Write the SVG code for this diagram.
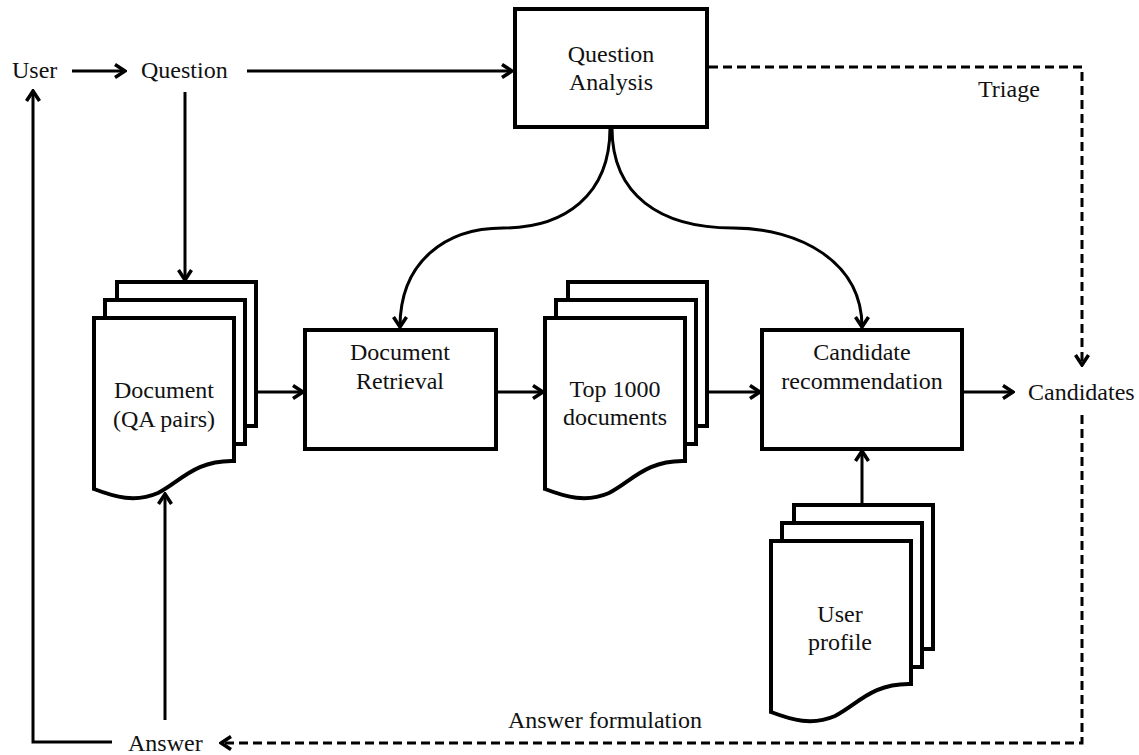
<svg xmlns="http://www.w3.org/2000/svg" xmlns:xlink="http://www.w3.org/1999/xlink" width="1139" height="755" viewBox="0 0 1139 755">
  <style>
    .box { fill: #fff; stroke: #000; stroke-width: 4; }
    .sheet { fill: #fff; stroke: #000; stroke-width: 4; stroke-linejoin: miter; }
    .lbl { font-family: "Liberation Serif", "Times New Roman", serif; font-size: 24px; fill: #111; }
    .mid { text-anchor: middle; }
    .wire { fill: none; stroke: #000; stroke-width: 3; }
    .dash { fill: none; stroke: #000; stroke-width: 3; stroke-dasharray: 9 5; }
  </style>
  <defs>
    <marker id="head" viewBox="0 0 14 16" refX="12" refY="8" markerWidth="14" markerHeight="16" markerUnits="userSpaceOnUse" orient="auto">
      <path d="M2,1.5 L12,8 L2,14.5" fill="none" stroke="#000" stroke-width="3.5" stroke-dasharray="none"/>
    </marker>
    <!-- stack of three document sheets, front sheet with a wavy bottom -->
    <g id="docStack">
      <rect class="sheet" x="117" y="282" width="139" height="144"/>
      <rect class="sheet" x="105" y="300" width="140" height="144"/>
      <path class="sheet" d="M94,318 H234 V461 C195,460 180,482 158,493 C135,503 115,497 94,489 Z"/>
    </g>
  </defs>

  <g id="connectors">
    <!-- user asks a question -->
    <line class="wire" x1="72" y1="71" x2="125" y2="71" marker-end="url(#head)"/>
    <line class="wire" x1="247" y1="71" x2="512" y2="71" marker-end="url(#head)"/>
    <line class="wire" x1="185" y1="92" x2="185" y2="280" marker-end="url(#head)"/>
    <!-- main pipeline -->
    <line class="wire" x1="256" y1="392" x2="303" y2="392" marker-end="url(#head)"/>
    <line class="wire" x1="496" y1="392" x2="543" y2="392" marker-end="url(#head)"/>
    <line class="wire" x1="707" y1="392" x2="760" y2="392" marker-end="url(#head)"/>
    <line class="wire" x1="962" y1="392" x2="1013" y2="392" marker-end="url(#head)"/>
    <line class="wire" x1="862" y1="505" x2="862" y2="451" marker-end="url(#head)"/>
    <!-- analysis feeds retrieval and recommendation -->
    <path class="wire" d="M610,128 C610,195 565,228 503,228 C445,228 400,262 400,327" marker-end="url(#head)"/>
    <path class="wire" d="M612,128 C612,195 660,228 733,228 C800,228 862,262 862,327" marker-end="url(#head)"/>
    <!-- triage -->
    <path class="dash" d="M709,67 H1082 V365" marker-end="url(#head)"/>
    <!-- answer formulation -->
    <path class="dash" d="M1082,415 V743 H221" marker-end="url(#head)"/>
    <!-- answer back to user and documents -->
    <path class="wire" d="M112,742 H33 V91" marker-end="url(#head)"/>
    <line class="wire" x1="165" y1="720" x2="165" y2="494" marker-end="url(#head)"/>
  </g>

  <g id="user"><text class="lbl" x="12" y="78">User</text></g>
  <g id="question"><text class="lbl" x="141" y="78">Question</text></g>

  <g id="question-analysis">
    <rect class="box" x="515" y="9" width="192" height="118"/>
    <text class="lbl mid" x="611" y="62">Question</text>
    <text class="lbl mid" x="611" y="90">Analysis</text>
  </g>

  <g id="documents">
    <use xlink:href="#docStack"/>
    <text class="lbl mid" x="164" y="398">Document</text>
    <text class="lbl mid" x="164" y="427">(QA pairs)</text>
  </g>

  <g id="document-retrieval">
    <rect class="box" x="305" y="330" width="191" height="119"/>
    <text class="lbl mid" x="400" y="360">Document</text>
    <text class="lbl mid" x="400" y="389">Retrieval</text>
  </g>

  <g id="top-documents">
    <use xlink:href="#docStack" transform="translate(451,0)"/>
    <text class="lbl mid" x="615" y="397">Top 1000</text>
    <text class="lbl mid" x="615" y="425">documents</text>
  </g>

  <g id="candidate-recommendation">
    <rect class="box" x="762" y="330" width="200" height="119"/>
    <text class="lbl mid" x="862" y="360">Candidate</text>
    <text class="lbl mid" x="862" y="389">recommendation</text>
  </g>

  <g id="user-profile">
    <use xlink:href="#docStack" transform="translate(677,223)"/>
    <text class="lbl mid" x="840" y="622">User</text>
    <text class="lbl mid" x="840" y="650">profile</text>
  </g>

  <g id="candidates"><text class="lbl" x="1028" y="400">Candidates</text></g>
  <g id="answer"><text class="lbl" x="128" y="751">Answer</text></g>

  <g id="edge-labels">
    <text class="lbl" x="978" y="97">Triage</text>
    <text class="lbl" x="508" y="728">Answer formulation</text>
  </g>
</svg>
